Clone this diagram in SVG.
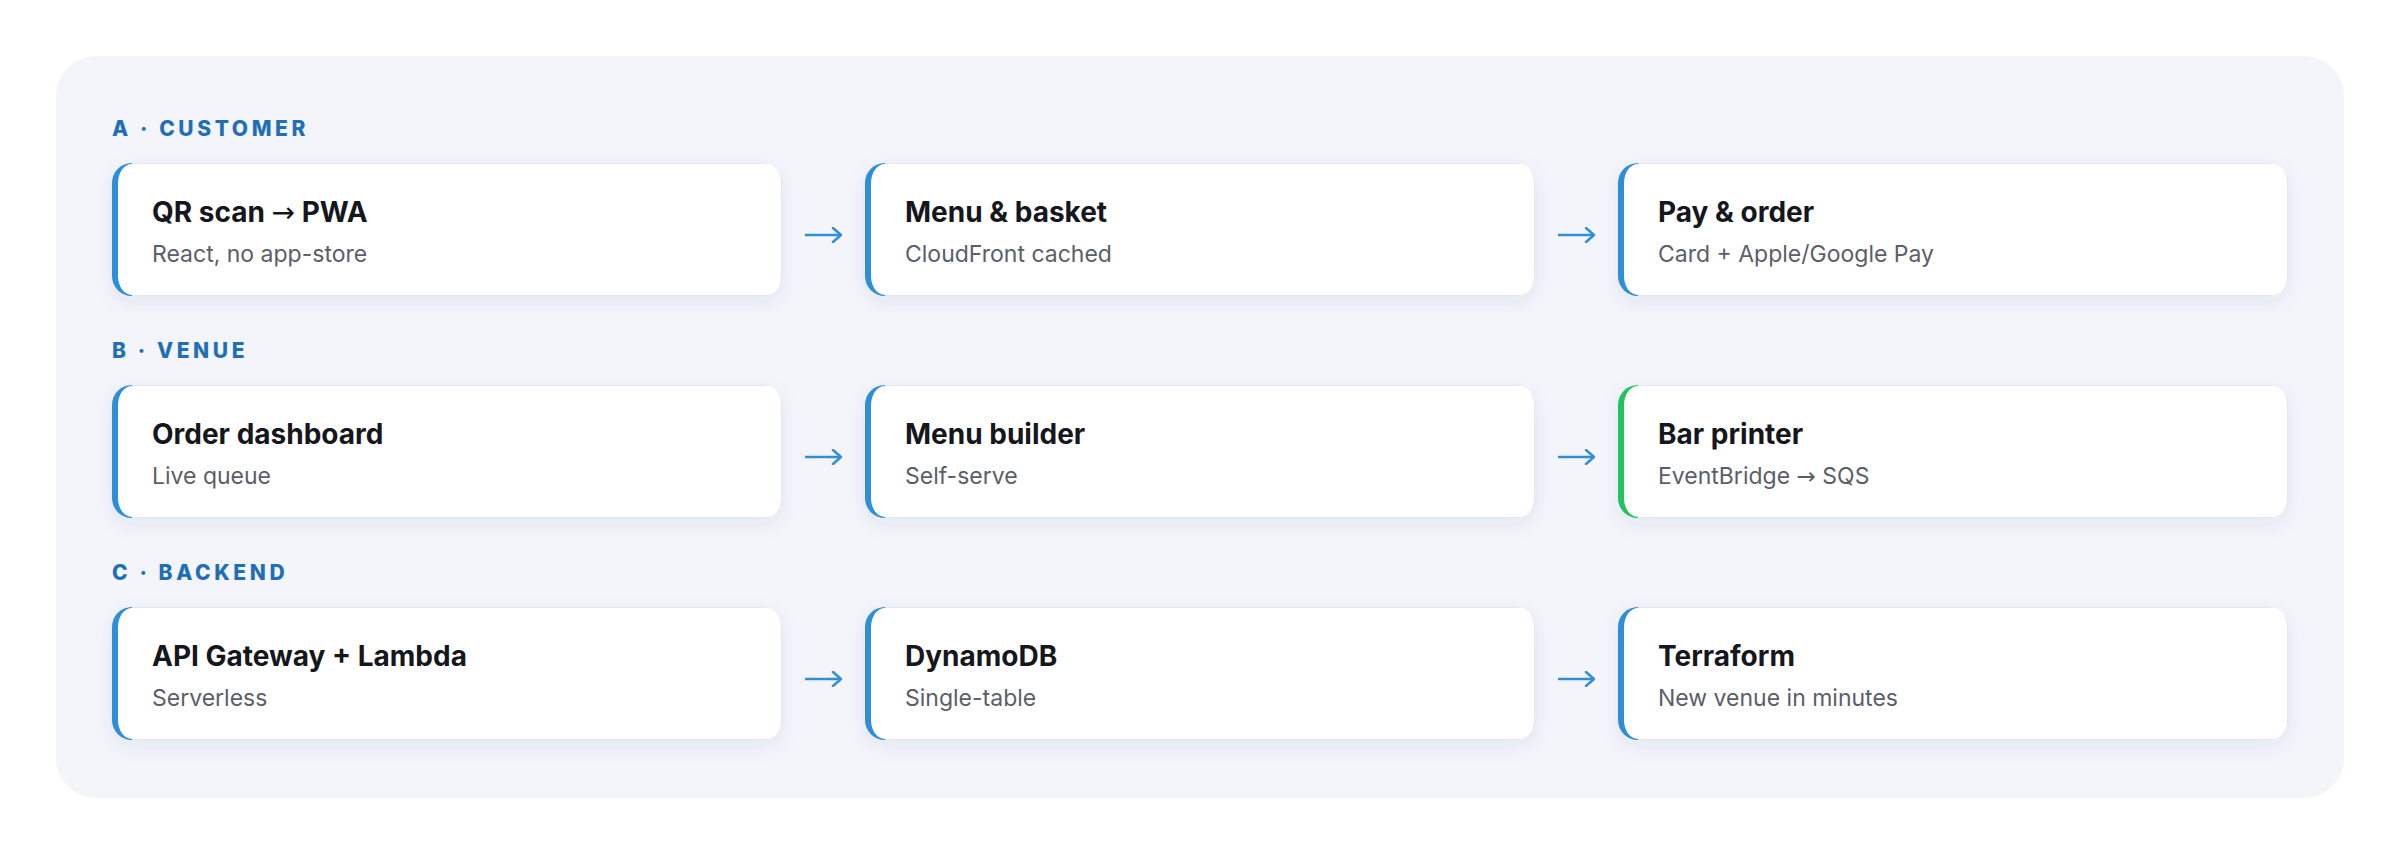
<svg xmlns="http://www.w3.org/2000/svg" width="2400" height="854" viewBox="0 0 2400 854">
<defs>
<filter id="shadow" x="-10%" y="-30%" width="120%" height="170%">
<feDropShadow dx="0" dy="6" stdDeviation="9" flood-color="#2a3a80" flood-opacity="0.08"/>
</filter>
<marker id="ah" viewBox="0 0 12 16" refX="10" refY="8" markerWidth="12" markerHeight="16" markerUnits="userSpaceOnUse" orient="auto">
<path d="M2,1 L10,8 L2,15" fill="none" stroke="#2f8fd6" stroke-width="2.4" stroke-linecap="round" stroke-linejoin="round"/>
</marker>
</defs>
<style>
.label{font-family:Inter,"Noto Sans",sans-serif;font-weight:800;font-size:21px;letter-spacing:3.6px;fill:#1f6fb6}
.title{font-family:Inter,"Noto Sans",sans-serif;font-weight:700;font-size:28px;fill:#16161d}
.sub{font-family:Inter,"Noto Sans",sans-serif;font-weight:400;font-size:23px;fill:#5b5e69}
.arr{font-family:"DejaVu Sans","Noto Sans",sans-serif;font-weight:400}
.border{fill:#e3e7f3}
.inner{fill:#ffffff}
.blue{fill:#2f8fd6}
.green{fill:#22c35e}
.conn{stroke:#2f8fd6;stroke-width:2.4;fill:none;marker-end:url(#ah)}
</style>
<rect x="56" y="56" width="2288" height="742" rx="40" fill="#f4f5fa"/>

<text class="label" x="112" y="136">A · CUSTOMER</text>
<text class="label" x="112" y="358">B · VENUE</text>
<text class="label" x="112" y="580">C · BACKEND</text>

<g id="qr-scan">
<rect class="border" x="112" y="163" width="670" height="133" rx="20" filter="url(#shadow)"/>
<path class="blue" d="M132,163 A20,20 0 0 0 112,183 V276 A20,20 0 0 0 132,296 Z"/>
<rect class="inner" x="118" y="164" width="663" height="131" rx="14" ry="19"/>
<text class="title" x="152" y="222">QR scan <tspan class="arr">→</tspan> PWA</text>
<text class="sub" x="152" y="262">React, no app-store</text>
</g>
<g id="menu-basket">
<rect class="border" x="865" y="163" width="670" height="133" rx="20" filter="url(#shadow)"/>
<path class="blue" d="M885,163 A20,20 0 0 0 865,183 V276 A20,20 0 0 0 885,296 Z"/>
<rect class="inner" x="871" y="164" width="663" height="131" rx="14" ry="19"/>
<text class="title" x="905" y="222">Menu &amp; basket</text>
<text class="sub" x="905" y="262">CloudFront cached</text>
</g>
<g id="pay-order">
<rect class="border" x="1618" y="163" width="670" height="133" rx="20" filter="url(#shadow)"/>
<path class="blue" d="M1638,163 A20,20 0 0 0 1618,183 V276 A20,20 0 0 0 1638,296 Z"/>
<rect class="inner" x="1624" y="164" width="663" height="131" rx="14" ry="19"/>
<text class="title" x="1658" y="222">Pay &amp; order</text>
<text class="sub" x="1658" y="262">Card + Apple/Google Pay</text>
</g>

<g id="order-dashboard">
<rect class="border" x="112" y="385" width="670" height="133" rx="20" filter="url(#shadow)"/>
<path class="blue" d="M132,385 A20,20 0 0 0 112,405 V498 A20,20 0 0 0 132,518 Z"/>
<rect class="inner" x="118" y="386" width="663" height="131" rx="14" ry="19"/>
<text class="title" x="152" y="444">Order dashboard</text>
<text class="sub" x="152" y="484">Live queue</text>
</g>
<g id="menu-builder">
<rect class="border" x="865" y="385" width="670" height="133" rx="20" filter="url(#shadow)"/>
<path class="blue" d="M885,385 A20,20 0 0 0 865,405 V498 A20,20 0 0 0 885,518 Z"/>
<rect class="inner" x="871" y="386" width="663" height="131" rx="14" ry="19"/>
<text class="title" x="905" y="444">Menu builder</text>
<text class="sub" x="905" y="484">Self-serve</text>
</g>
<g id="bar-printer">
<rect class="border" x="1618" y="385" width="670" height="133" rx="20" filter="url(#shadow)"/>
<path class="green" d="M1638,385 A20,20 0 0 0 1618,405 V498 A20,20 0 0 0 1638,518 Z"/>
<rect class="inner" x="1624" y="386" width="663" height="131" rx="14" ry="19"/>
<text class="title" x="1658" y="444">Bar printer</text>
<text class="sub" x="1658" y="484">EventBridge <tspan class="arr">→</tspan> SQS</text>
</g>

<g id="api-gateway">
<rect class="border" x="112" y="607" width="670" height="133" rx="20" filter="url(#shadow)"/>
<path class="blue" d="M132,607 A20,20 0 0 0 112,627 V720 A20,20 0 0 0 132,740 Z"/>
<rect class="inner" x="118" y="608" width="663" height="131" rx="14" ry="19"/>
<text class="title" x="152" y="666">API Gateway + Lambda</text>
<text class="sub" x="152" y="706">Serverless</text>
</g>
<g id="dynamodb">
<rect class="border" x="865" y="607" width="670" height="133" rx="20" filter="url(#shadow)"/>
<path class="blue" d="M885,607 A20,20 0 0 0 865,627 V720 A20,20 0 0 0 885,740 Z"/>
<rect class="inner" x="871" y="608" width="663" height="131" rx="14" ry="19"/>
<text class="title" x="905" y="666">DynamoDB</text>
<text class="sub" x="905" y="706">Single-table</text>
</g>
<g id="terraform">
<rect class="border" x="1618" y="607" width="670" height="133" rx="20" filter="url(#shadow)"/>
<path class="blue" d="M1638,607 A20,20 0 0 0 1618,627 V720 A20,20 0 0 0 1638,740 Z"/>
<rect class="inner" x="1624" y="608" width="663" height="131" rx="14" ry="19"/>
<text class="title" x="1658" y="666">Terraform</text>
<text class="sub" x="1658" y="706">New venue in minutes</text>
</g>

<g id="connectors">
<path class="conn" d="M805,235 H841"/>
<path class="conn" d="M1558,235 H1594"/>
<path class="conn" d="M805,457 H841"/>
<path class="conn" d="M1558,457 H1594"/>
<path class="conn" d="M805,679 H841"/>
<path class="conn" d="M1558,679 H1594"/>
</g>
</svg>
